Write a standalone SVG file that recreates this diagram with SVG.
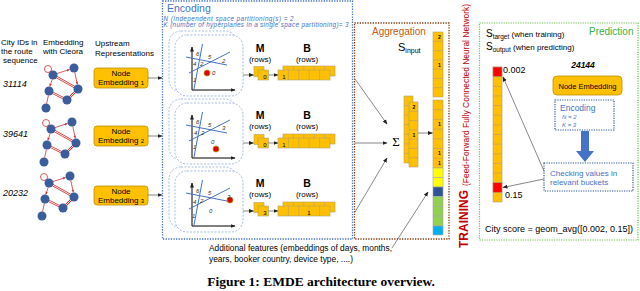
<svg xmlns="http://www.w3.org/2000/svg" width="640" height="291" viewBox="0 0 640 291">
<style>
text{font-family:"Liberation Sans",Arial,sans-serif}
.serif{font-family:"Liberation Serif","Times New Roman",serif}
.lbl{font-size:8px}
.it{font-style:italic}
.red{fill:#c00000}
.brown{fill:#c55a11}
.green{fill:#33b04a}
.ne{fill:#ffc000;stroke:#bf9000;stroke-width:0.8}
.cell{fill:#ffc000;stroke:#b0a070;stroke-width:0.6}
.div{stroke:#b0a070;stroke-width:0.6;fill:none}
.conn{stroke:#555;stroke-width:0.7;fill:none}
.ax{stroke:#000;stroke-width:1;fill:none}
.hp{stroke:#4472c4;stroke-width:1;fill:none}
.ib{fill:#fff;stroke:#8eaadb;stroke-width:0.8;stroke-dasharray:2 1.5}
.num{font-size:6px;fill:#333;font-style:italic}
.enc{fill:#4472c4}
.gn{fill:#3a5e9c}
.ge{stroke:#d03030;stroke-width:0.8;fill:none}
.gd{stroke:#d03030;stroke-width:2.4;fill:none}
.gw{stroke:#fff;stroke-width:0.9;fill:none}
.cnum{font-size:5px;font-weight:bold;text-anchor:middle}
.mh{font-size:10.5px;font-weight:bold;text-anchor:middle}
.rw{font-size:8px;text-anchor:middle}
</style>
<defs>
<marker id="ah" viewBox="0 0 10 10" refX="9" refY="5" markerWidth="5" markerHeight="5" markerUnits="userSpaceOnUse" orient="auto"><path d="M0,1 L10,5 L0,9 z" fill="#222"/></marker>
<marker id="ahr" viewBox="0 0 10 10" refX="9" refY="5" markerWidth="3" markerHeight="3" markerUnits="userSpaceOnUse" orient="auto"><path d="M0,1 L10,5 L0,9 z" fill="#d03030"/></marker>
<g id="graph">
<circle cx="48" cy="69" r="3.5" class="ge"/>
<line x1="57" y1="73.5" x2="69.5" y2="69.5" class="ge" marker-end="url(#ahr)"/>
<line x1="53" y1="75" x2="78" y2="89" class="gd"/><line x1="53" y1="75" x2="78" y2="89" class="gw"/>
<line x1="78" y1="89" x2="67" y2="100" class="gd"/><line x1="78" y1="89" x2="67" y2="100" class="gw"/>
<line x1="67" y1="100" x2="49" y2="91" class="gd"/><line x1="67" y1="100" x2="49" y2="91" class="gw"/>
<line x1="74.8" y1="72.5" x2="77.3" y2="84.3" class="ge" marker-end="url(#ahr)"/>
<line x1="52.2" y1="79.5" x2="49.8" y2="86.3" class="ge" marker-end="url(#ahr)"/>
<line x1="48.4" y1="95.5" x2="46.6" y2="103.5" class="ge"/>
<circle cx="53" cy="75" r="4.5" class="gn"/>
<circle cx="74" cy="68" r="4.5" class="gn"/>
<circle cx="78" cy="89" r="4.5" class="gn"/>
<circle cx="67" cy="100" r="4.5" class="gn"/>
<circle cx="49" cy="91" r="4.5" class="gn"/>
<circle cx="46" cy="108" r="4.5" class="gn"/>
</g>
<g id="axes">
<line x1="192" y1="90" x2="192" y2="47" class="ax" marker-end="url(#ah)"/>
<line x1="192" y1="90" x2="235" y2="90" class="ax" marker-end="url(#ah)"/>
<line x1="202.5" y1="44" x2="194" y2="89" class="hp"/>
<line x1="186" y1="57" x2="227" y2="65" class="hp"/>
<line x1="189" y1="73" x2="230" y2="52" class="hp"/>
</g>
<g id="mb">
<rect x="254" y="66.5" width="10" height="10" class="cell"/>
<rect x="258" y="70" width="10.5" height="10" class="cell"/>
<line x1="243" y1="75" x2="253.5" y2="75" class="conn" marker-end="url(#ah)"/>
<line x1="268.5" y1="75" x2="278" y2="75" class="conn" marker-end="url(#ah)"/>
<rect x="283" y="66" width="52" height="10" class="cell"/>
<path d="M293.4,66v4M303.8,66v4M314.2,66v4M324.6,66v4" class="div"/>
<rect x="278" y="70" width="52" height="10" class="cell"/>
<path d="M288.4,70v10M298.8,70v10M309.2,70v10M319.6,70v10" class="div"/>
</g>
</defs>

<g id="labels-left">
<text x="1" y="45" class="lbl">City IDs in</text>
<text x="1" y="54" class="lbl">the route</text>
<text x="3" y="63" class="lbl">sequence</text>
<text x="43" y="45" class="lbl">Embedding</text>
<text x="43" y="54" class="lbl">with Cleora</text>
<text x="95" y="46" class="lbl">Upstream</text>
<text x="95" y="56" class="lbl" textLength="59">Representations</text>
<text x="3" y="87" font-size="9" font-style="italic">31114</text>
<text x="3" y="137" font-size="9" font-style="italic">39641</text>
<text x="3" y="196" font-size="9" font-style="italic">20232</text>
</g>

<use id="graph1" href="#graph"/>
<use id="graph2" href="#graph" transform="translate(-2,54)"/>
<use id="graph3" href="#graph" transform="translate(-4,108)"/>

<g id="node-emb1">
<rect x="94" y="68" width="54" height="20" rx="3" class="ne"/>
<text x="121" y="76" font-size="8" text-anchor="middle">Node</text>
<text x="121" y="85" font-size="8" text-anchor="middle">Embedding <tspan font-size="6">1</tspan></text>
</g>
<g id="node-emb2">
<rect x="94" y="126" width="54" height="20" rx="3" class="ne"/>
<text x="121" y="134" font-size="8" text-anchor="middle">Node</text>
<text x="121" y="143" font-size="8" text-anchor="middle">Embedding <tspan font-size="6">2</tspan></text>
</g>
<g id="node-emb3">
<rect x="94" y="186" width="54" height="19" rx="3" class="ne"/>
<text x="121" y="194" font-size="8" text-anchor="middle">Node</text>
<text x="121" y="203" font-size="8" text-anchor="middle">Embedding <tspan font-size="6">3</tspan></text>
</g>

<g id="encoding">
<rect x="162.5" y="1" width="190" height="238" fill="none" stroke="#4472c4" stroke-width="1.3" stroke-dasharray="1.3 1.3"/>
<text x="167" y="12" font-size="10.5" class="enc">Encoding</text>
<text x="163.5" y="20.5" font-size="6.3" class="enc it" textLength="130">N (Independent space partitioning(s) = 2</text>
<text x="163.5" y="27" font-size="6.3" class="enc it" textLength="185">K (number of hyperplanes in a single space partitioning)= 3</text>
</g>

<g id="enc-row1">
<rect x="169" y="31" width="68" height="61" rx="12" class="ib"/>
<rect x="175" y="35" width="68" height="61" rx="12" class="ib"/>
<use href="#axes"/>
<circle cx="207" cy="73" r="3" fill="#e00000" stroke="#c09000" stroke-width="0.8"/>
<text x="196" y="56" class="num">6</text><text x="208" y="59" class="num">5</text><text x="222" y="63" class="num">2</text>
<text x="193" y="66" class="num">4</text><text x="200" y="66" class="num">2</text><text x="193" y="82" class="num">1</text><text x="212" y="75" class="num">0</text>
<use href="#mb"/>
<text x="265" y="78.5" font-size="6" text-anchor="middle">0</text>
<text x="284" y="79" font-size="6" text-anchor="middle">1</text>
<text x="260" y="52" class="mh">M</text>
<text x="260" y="61.5" class="rw">(rows)</text>
<text x="307" y="52" class="mh">B</text>
<text x="307" y="61.5" class="rw">(rows)</text>
</g>

<g id="enc-row2" transform="translate(0,68)">
<rect x="169" y="31" width="68" height="61" rx="12" class="ib"/>
<rect x="175" y="35" width="68" height="61" rx="12" class="ib"/>
<use href="#axes"/>
<circle cx="216" cy="81" r="3" fill="#e00000" stroke="#c09000" stroke-width="0.8"/>
<text x="196" y="56" class="num">6</text><text x="208" y="59" class="num">5</text><text x="222" y="62" class="num">3</text>
<text x="194" y="67" class="num">4</text><text x="201" y="67" class="num">2</text><text x="193" y="81" class="num">1</text><text x="211" y="76" class="num">0</text>
<use href="#mb"/>
<text x="265" y="78.5" font-size="6" text-anchor="middle">0</text>
<text x="284" y="79" font-size="6" text-anchor="middle">1</text>
<text x="260" y="51" class="mh">M</text>
<text x="260" y="60.5" class="rw">(rows)</text>
<text x="307" y="51" class="mh">B</text>
<text x="307" y="60.5" class="rw">(rows)</text>
</g>

<g id="enc-row3" transform="translate(0,136)">
<rect x="169" y="31" width="68" height="61" rx="12" class="ib"/>
<rect x="175" y="35" width="68" height="61" rx="12" class="ib"/>
<use href="#axes"/>
<circle cx="230" cy="64" r="3" fill="#e00000" stroke="#c09000" stroke-width="0.8"/>
<text x="196" y="57" class="num">6</text><text x="208" y="59" class="num">5</text><text x="227" y="63" class="num">3</text>
<text x="193" y="68" class="num">4</text><text x="200" y="67" class="num">2</text><text x="192" y="82" class="num">1</text><text x="209" y="77" class="num">0</text>
<use href="#mb"/>
<text x="265" y="78.5" font-size="6" text-anchor="middle">3</text>
<text x="309" y="79" font-size="6" text-anchor="middle">1</text>
<text x="260" y="51" class="mh">M</text>
<text x="260" y="60.5" class="rw">(rows)</text>
<text x="307" y="51" class="mh">B</text>
<text x="307" y="60.5" class="rw">(rows)</text>
</g>

<g id="aggregation">
<rect x="354.5" y="23" width="94.5" height="216" fill="none" stroke="#843c0c" stroke-width="1.3" stroke-dasharray="1.3 1.3"/>
<text x="372" y="35" font-size="10" class="brown">Aggregation</text>
<text x="398" y="51" font-size="11">S<tspan font-size="7" dy="2">input</tspan></text>
<text x="396" y="146" font-size="13" text-anchor="middle" class="serif">Σ</text>
</g>

<g id="sum-columns">
<rect x="404" y="96" width="9" height="67" class="cell"/>
<path d="M404,105.6h9M404,115.1h9M404,124.7h9M404,134.3h9M404,143.9h9M404,153.4h9" class="div"/>
<rect x="409" y="102" width="9" height="65" class="cell"/>
<path d="M409,111.3h9M409,120.6h9M409,129.9h9M409,139.1h9M409,148.4h9M409,157.7h9" class="div"/>
<text x="414" y="109" class="cnum" font-size="6">2</text>
<text x="414" y="137" class="cnum" font-size="6">1</text>
</g>

<g id="input-column">
<rect x="433" y="32" width="10" height="65" class="cell"/>
<path d="M433,41.3h10M433,50.6h10M433,59.9h10M433,69.1h10M433,78.4h10M433,87.7h10" class="div"/>
<rect x="433" y="100" width="10" height="68" class="cell"/>
<path d="M433,109.7h10M433,119.4h10M433,129.1h10M433,138.8h10M433,148.5h10M433,158.2h10" class="div"/>
<rect x="433" y="168" width="10" height="9.5" fill="#ffff00" stroke="#a6a6a6" stroke-width="0.6"/>
<rect x="433" y="177.5" width="10" height="9.5" fill="#ffff00" stroke="#a6a6a6" stroke-width="0.6"/>
<rect x="433" y="187" width="10" height="9.5" fill="#2f5597" stroke="#a6a6a6" stroke-width="0.6"/>
<rect x="433" y="196.5" width="10" height="9.8" fill="#92d050" stroke="#a6a6a6" stroke-width="0.6"/>
<rect x="433" y="206.3" width="10" height="9.8" fill="#92d050" stroke="#a6a6a6" stroke-width="0.6"/>
<rect x="433" y="216.1" width="10" height="9.9" fill="#92d050" stroke="#a6a6a6" stroke-width="0.6"/>
<rect x="433" y="226" width="10" height="9" fill="#00b0f0" stroke="#a6a6a6" stroke-width="0.6"/>
<text x="439.5" y="39" class="cnum">2</text>
<text x="439.5" y="66.5" class="cnum">1</text>
<text x="439.5" y="126" class="cnum">1</text>
<text x="439.5" y="155" class="cnum">1</text>
<text x="439.5" y="164.5" class="cnum">1</text>
</g>

<g id="training-label">
<text transform="translate(468,248) rotate(-90)" font-size="13.5" font-weight="bold" class="red" textLength="58" lengthAdjust="spacingAndGlyphs">TRAINING</text>
<text transform="translate(469,186) rotate(-90)" font-size="8.3" class="red" textLength="182" lengthAdjust="spacingAndGlyphs">(Feed-Forward Fully Connected Neural Network)</text>
</g>

<g id="additional-features">
<text x="209" y="251" font-size="8.3" textLength="183" lengthAdjust="spacingAndGlyphs">Additional features (embeddings of days, months,</text>
<text x="209" y="262" font-size="8.3" textLength="144" lengthAdjust="spacingAndGlyphs">years, booker country, device type, ....)</text>
</g>

<g id="prediction">
<rect x="479.5" y="23" width="158.5" height="217" fill="none" stroke="#6cc04a" stroke-width="1.2" stroke-dasharray="1.2 1.2"/>
<text x="589" y="35" font-size="10" class="green">Prediction</text>
<text x="486" y="37" font-size="10">S<tspan font-size="6.5" dy="2">target</tspan><tspan font-size="8" dy="-2"> (when training)</tspan></text>
<text x="486" y="50" font-size="10">S<tspan font-size="6.5" dy="2">output</tspan><tspan font-size="8" dy="-2"> (when predicting)</tspan></text>
<text x="503" y="72.5" font-size="9">0.002</text>
<text x="505" y="197.5" font-size="9">0.15</text>
<text x="583" y="68" font-size="8.5" font-style="italic" font-weight="bold" text-anchor="middle">24144</text>
<text x="485" y="232" font-size="9" textLength="148" lengthAdjust="spacingAndGlyphs">City score = geom_avg([0.002, 0.15])</text>
</g>

<g id="pred-column">
<rect x="493" y="67" width="9" height="135" class="cell"/>
<path d="M493,76.64h9M493,86.29h9M493,95.93h9M493,105.57h9M493,115.21h9M493,124.86h9M493,134.5h9M493,144.14h9M493,153.79h9M493,163.43h9M493,173.07h9M493,182.71h9M493,192.36h9" class="div"/>
<rect x="493" y="67" width="9" height="9.64" fill="#ff0000" stroke="#b0a070" stroke-width="0.6"/>
<rect x="493" y="182.71" width="9" height="9.65" fill="#ff0000" stroke="#b0a070" stroke-width="0.6"/>
</g>

<g id="pred-node-emb">
<rect x="553" y="76" width="69" height="19" rx="4" class="ne"/>
<text x="587.5" y="88.5" font-size="7.5" text-anchor="middle">Node Embedding</text>
</g>

<g id="pred-encoding">
<rect x="555" y="100" width="59" height="30" fill="#fff" stroke="#2f5597" stroke-width="1.2" stroke-dasharray="1.2 1.2"/>
<text x="560" y="110.5" font-size="8.5" class="enc">Encoding</text>
<text x="562" y="118.5" font-size="6" class="enc it">N = 2</text>
<text x="562" y="126.5" font-size="6" class="enc it">K = 3</text>
</g>

<g id="pred-checking">
<rect x="544" y="163" width="89" height="28" fill="#fff" stroke="#2f5597" stroke-width="1.2" stroke-dasharray="1.2 1.2"/>
<text x="550" y="175.5" font-size="8" class="enc">Checking values in</text>
<text x="550" y="185" font-size="8" class="enc">relevant buckets</text>
</g>

<g id="connectors">
<line x1="148" y1="78" x2="162" y2="78" class="conn" marker-end="url(#ah)"/>
<line x1="148" y1="136" x2="162" y2="136" class="conn" marker-end="url(#ah)"/>
<line x1="148" y1="195" x2="162" y2="195" class="conn" marker-end="url(#ah)"/>
<line x1="355" y1="79" x2="387" y2="124" class="conn" marker-end="url(#ah)"/>
<line x1="355" y1="143" x2="387" y2="143" class="conn" marker-end="url(#ah)"/>
<line x1="355" y1="212" x2="387" y2="158" class="conn" marker-end="url(#ah)"/>
<line x1="418" y1="133" x2="432.5" y2="133" class="conn" marker-end="url(#ah)"/>
<line x1="392" y1="248" x2="428" y2="192" class="conn" marker-end="url(#ah)"/>
<path d="M581,131h8v20h5l-9,11l-9,-11h5z" fill="#4472c4"/>
<line x1="544" y1="171" x2="503" y2="77" class="conn" marker-end="url(#ah)"/>
<line x1="544" y1="179" x2="503" y2="187.5" class="conn" marker-end="url(#ah)"/>
</g>

<text id="caption" x="321" y="286" font-size="13.5" font-weight="bold" text-anchor="middle" class="serif">Figure 1: EMDE architecture overview.</text>
</svg>
